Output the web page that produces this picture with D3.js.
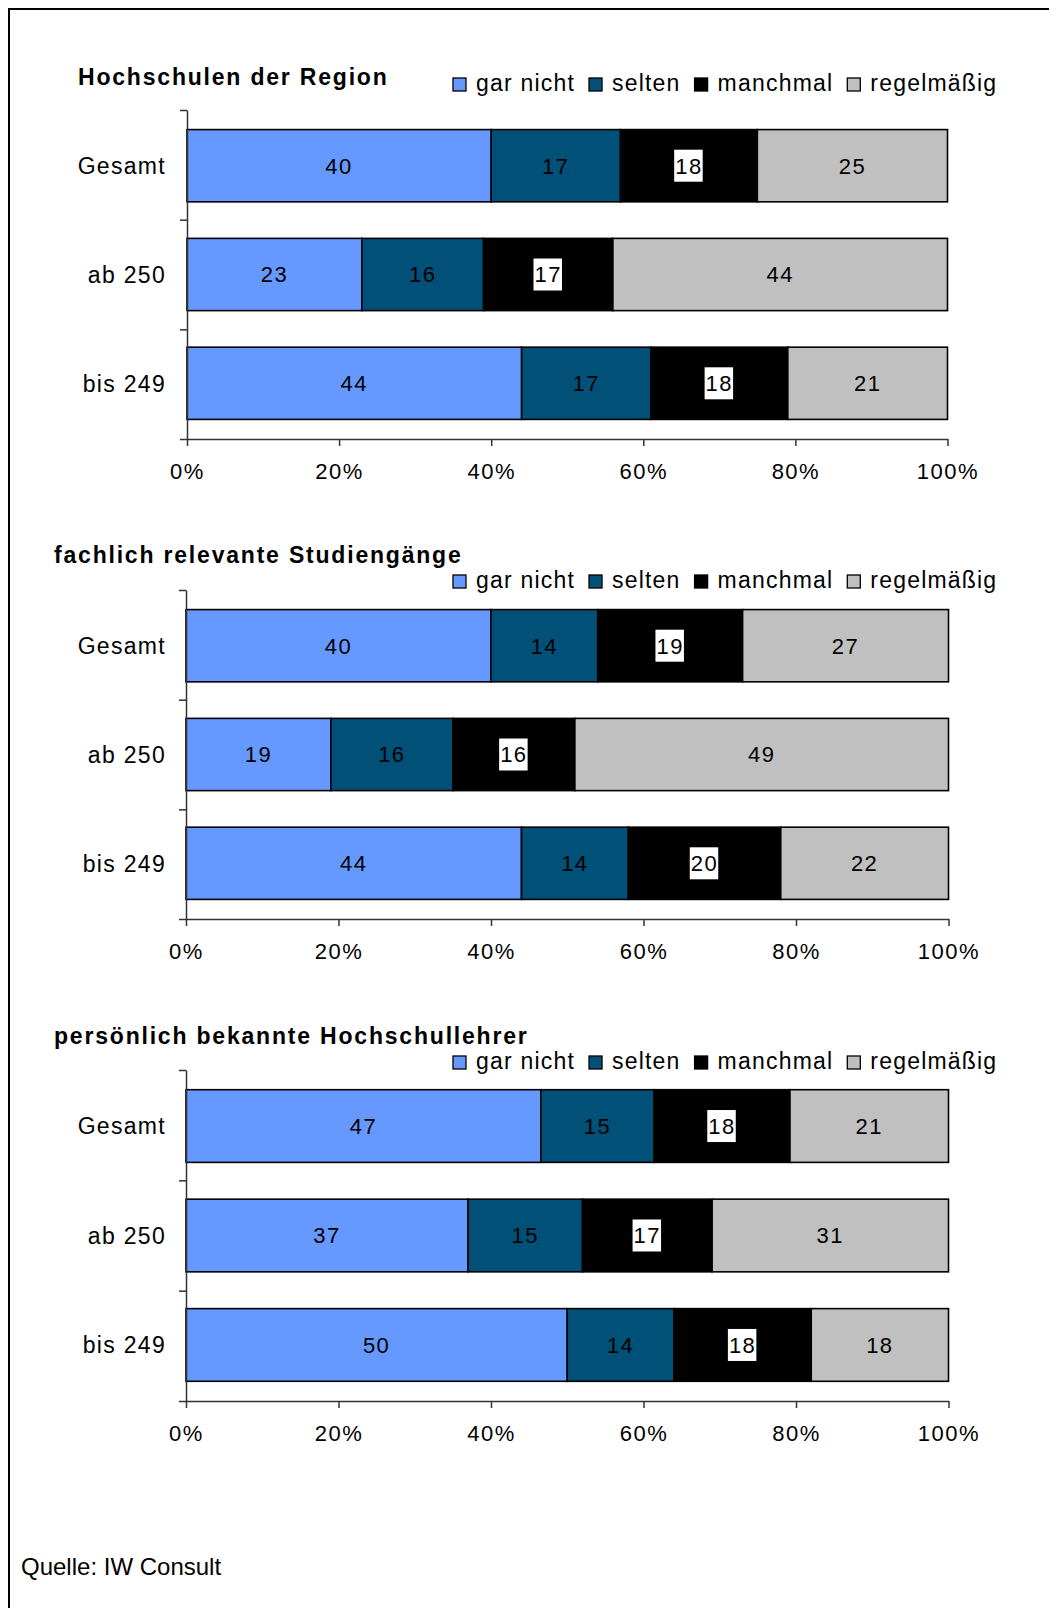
<!DOCTYPE html>
<html>
<head>
<meta charset="utf-8">
<script src="https://cdn.jsdelivr.net/npm/d3@7"></script>
<style>
  body { margin: 0; background: #fff; }
  svg { display: block; font-family: "Liberation Sans", Arial, sans-serif; }
</style>
</head>
<body>
<svg id="chart" width="1049" height="1608"></svg>
<script>
// Data
const categories = ["Gesamt", "ab 250", "bis 249"];
const seriesNames = ["gar nicht", "selten", "manchmal", "regelmäßig"];
const seriesColors = ["#6699ff", "#005078", "#000000", "#c0c0c0"];
const xTicks = [0, 20, 40, 60, 80, 100];

const titles = ["Hochschulen der Region", "fachlich relevante Studiengänge", "persönlich bekannte Hochschullehrer"];

// rows: Gesamt, ab 250, bis 249 ; columns: gar nicht, selten, manchmal, regelmäßig
const regionValues = [[40, 17, 18, 25], [23, 16, 17, 44], [44, 17, 18, 21]];
const studienValues = [[40, 14, 19, 27], [19, 16, 16, 49], [44, 14, 20, 22]];
const lehrerValues = [[47, 15, 18, 21], [37, 15, 17, 31], [50, 14, 18, 18]];

const source = "Quelle: IW Consult";

// Layout of the three panels
const panels = [
  { values: regionValues, title: titles[0], titleX: 78, titleY: 85, legendY: 91, left: 187, right: 947.5, top: 110, bottom: 439 },
  { values: studienValues, title: titles[1], titleX: 54, titleY: 563, legendY: 588, left: 186, right: 948.5, top: 590, bottom: 919 },
  { values: lehrerValues, title: titles[2], titleX: 54, titleY: 1044, legendY: 1069, left: 186, right: 948.5, top: 1070, bottom: 1401 }
];

const svg = d3.select("#chart");

// frame (only top and left edges visible)
svg.append("path")
  .attr("d", "M9,1608 L9,9 L1049,9")
  .attr("fill", "none")
  .attr("stroke", "#000")
  .attr("stroke-width", 2);

panels.forEach(p => {
  const g = svg.append("g");

  const x = d3.scaleLinear().domain([0, 100]).range([p.left, p.right]);
  const y = d3.scaleBand().domain(categories).range([p.top, p.bottom]).paddingInner(0.336).paddingOuter(0.18);
  const yEdge = d3.scaleLinear().domain([0, categories.length]).range([p.top, p.bottom]);

  // title
  g.append("text")
    .attr("x", p.titleX)
    .attr("y", p.titleY)
    .attr("font-size", 23)
    .attr("font-weight", "bold")
    .attr("letter-spacing", 1.8)
    .attr("fill", "#000")
    .text(p.title);

  // legend
  let lx = 453;
  seriesNames.forEach((name, i) => {
    g.append("rect")
      .attr("x", lx)
      .attr("y", p.legendY - 13)
      .attr("width", 13)
      .attr("height", 13)
      .attr("fill", seriesColors[i])
      .attr("stroke", "#000")
      .attr("stroke-width", 1.3);
    const t = g.append("text")
      .attr("x", lx + 23)
      .attr("y", p.legendY)
      .attr("font-size", 23)
      .attr("letter-spacing", 1.2)
      .text(name);
    lx += 23 + t.node().getComputedTextLength() + 14;
  });

  // stacked rows, normalised to 100%
  const rows = p.values.map((vals, r) => {
    const total = d3.sum(vals);
    let acc = 0;
    return vals.map((v, i) => {
      const seg = { cat: categories[r], i: i, v: v, x0: acc / total * 100, x1: (acc + v) / total * 100 };
      acc += v;
      return seg;
    });
  });

  const segs = rows.flat();

  g.selectAll("rect.bar")
    .data(segs)
    .enter().append("rect")
    .attr("class", "bar")
    .attr("x", d => x(d.x0))
    .attr("y", d => y(d.cat))
    .attr("width", d => x(d.x1) - x(d.x0))
    .attr("height", y.bandwidth())
    .attr("fill", d => seriesColors[d.i])
    .attr("stroke", "#000")
    .attr("stroke-width", 1.6);

  // value labels
  segs.forEach(d => {
    const cx = (x(d.x0) + x(d.x1)) / 2;
    const cy = y(d.cat) + y.bandwidth() / 2;
    const lg = g.append("g");
    const t = lg.append("text")
      .attr("x", cx)
      .attr("y", cy)
      .attr("dy", "0.36em")
      .attr("text-anchor", "middle")
      .attr("font-size", 22)
      .attr("letter-spacing", 1.5)
      .attr("fill", "#000")
      .text(d.v);
    if (d.i === 2) {
      const bb = t.node().getBBox();
      lg.insert("rect", "text")
        .attr("x", bb.x - 1)
        .attr("y", cy - 16)
        .attr("width", bb.width + 1)
        .attr("height", 32)
        .attr("fill", "#fff");
    }
  });

  // y axis with ticks at band edges
  const yAxis = g.append("g")
    .attr("transform", `translate(${p.left},0)`)
    .call(d3.axisLeft(yEdge).tickValues(d3.range(categories.length + 1)).tickSize(7).tickSizeOuter(0).tickFormat(""));
  yAxis.select(".domain").attr("stroke", "#333").attr("stroke-width", 1.5);
  yAxis.selectAll(".tick line").attr("stroke", "#333").attr("stroke-width", 1.5);

  // category labels
  g.selectAll("text.cat")
    .data(categories)
    .enter().append("text")
    .attr("class", "cat")
    .attr("x", 166)
    .attr("y", d => y(d) + y.bandwidth() / 2)
    .attr("dy", "0.36em")
    .attr("text-anchor", "end")
    .attr("font-size", 23)
    .attr("letter-spacing", 1.3)
    .attr("fill", "#000")
    .text(d => d);

  // x axis
  const xAxis = g.append("g")
    .attr("transform", `translate(0,${p.bottom})`)
    .call(d3.axisBottom(x).tickValues(xTicks).tickSize(7).tickSizeOuter(0).tickFormat(d => d + "%"));
  xAxis.select(".domain").attr("stroke", "#333").attr("stroke-width", 1.5);
  xAxis.selectAll(".tick line").attr("stroke", "#333").attr("stroke-width", 1.5);
  xAxis.selectAll(".tick text")
    .attr("y", 40)
    .attr("dy", 0)
    .attr("font-size", 22)
    .attr("letter-spacing", 1.5)
    .attr("font-family", "Liberation Sans, Arial, sans-serif")
    .attr("fill", "#000");
});

// source note
svg.append("text")
  .attr("x", 21)
  .attr("y", 1575)
  .attr("font-size", 24)
  .attr("fill", "#000")
  .text(source);
</script>
</body>
</html>
